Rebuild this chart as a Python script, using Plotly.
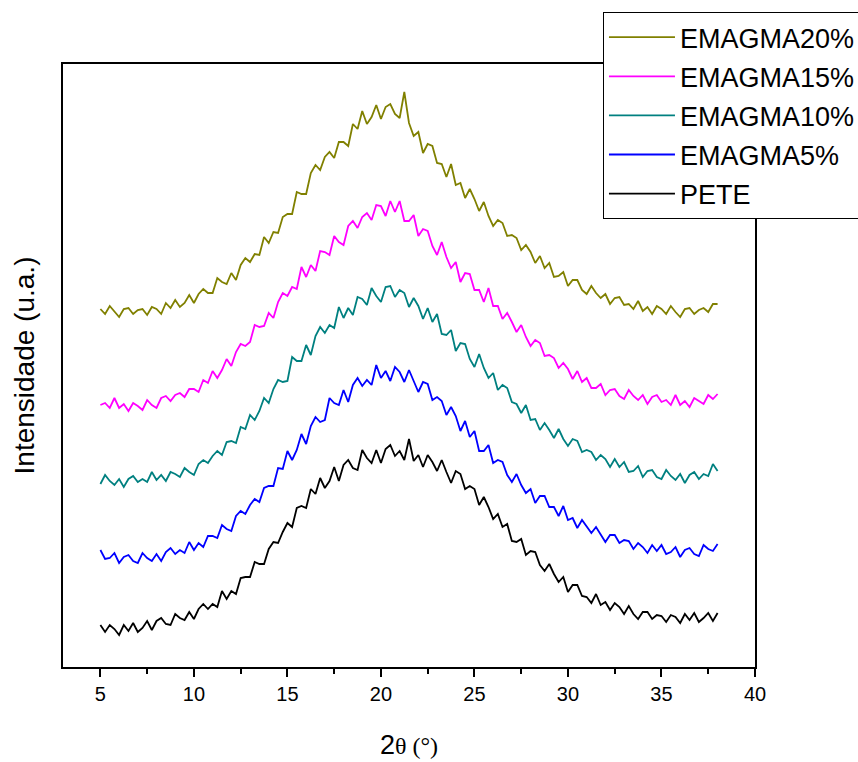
import plotly.graph_objects as go

# 2θ grid (degrees), one sample every 0.25°
two_theta = [5 + 0.25 * i for i in range(133)]

pete = [42, 35, 42, 38, 32, 42, 36, 44, 35, 39, 46, 37, 46, 49, 43, 42,
        53, 49, 47, 55, 48, 58, 63, 58, 63, 60, 76, 68, 76, 73, 89, 90,
        90, 105, 103, 103, 118, 125, 124, 135, 144, 140, 159, 161, 159, 178, 173, 189,
        179, 186, 200, 186, 202, 207, 199, 197, 217, 209, 204, 217, 204, 218, 222, 211,
        216, 207, 228, 206, 212, 200, 212, 205, 196, 207, 195, 184, 196, 193, 178, 181,
        178, 162, 170, 160, 148, 153, 140, 143, 126, 125, 128, 112, 116, 115, 102, 96,
        103, 93, 85, 90, 75, 82, 82, 71, 70, 64, 73, 62, 65, 57, 64, 60,
        53, 61, 53, 48, 55, 55, 48, 52, 51, 45, 52, 50, 44, 53, 47, 54,
        45, 49, 54, 46, 54]

emagma5 = [117, 108, 109, 114, 104, 110, 112, 106, 104, 114, 109, 106, 113, 106, 115, 119,
           113, 117, 114, 125, 117, 124, 120, 131, 131, 129, 142, 138, 136, 151, 156, 153,
           162, 168, 165, 179, 181, 181, 199, 198, 216, 207, 217, 233, 223, 241, 250, 245,
           247, 269, 264, 262, 277, 265, 282, 289, 281, 287, 282, 302, 289, 296, 286, 300,
           295, 285, 297, 285, 275, 285, 283, 267, 270, 266, 252, 260, 251, 236, 246, 230,
           236, 216, 216, 222, 204, 207, 205, 192, 185, 193, 182, 174, 178, 164, 171, 171,
           160, 160, 151, 161, 147, 149, 139, 147, 141, 134, 140, 132, 125, 132, 132, 124,
           127, 126, 118, 124, 120, 114, 122, 116, 122, 113, 115, 120, 110, 117, 119, 113,
           111, 122, 118, 116, 123]

emagma10 = [183, 192, 186, 182, 188, 180, 188, 191, 185, 188, 185, 195, 187, 192, 186, 195,
            193, 190, 199, 195, 192, 203, 207, 204, 211, 216, 212, 225, 226, 224, 240, 238,
            252, 247, 256, 269, 264, 278, 287, 285, 286, 310, 306, 306, 322, 312, 331, 340,
            334, 342, 339, 360, 349, 359, 352, 370, 368, 362, 379, 371, 365, 380, 381, 370,
            377, 374, 360, 369, 361, 348, 359, 345, 353, 333, 332, 337, 316, 324, 323, 308,
            300, 313, 299, 289, 294, 277, 282, 279, 265, 263, 254, 262, 247, 248, 237, 244,
            237, 229, 238, 228, 221, 228, 226, 215, 217, 215, 207, 212, 208, 200, 208, 200,
            205, 195, 196, 201, 190, 196, 197, 190, 188, 197, 191, 187, 193, 184, 192, 195,
            188, 193, 191, 203, 196]

emagma15 = [262, 264, 259, 269, 259, 263, 256, 264, 261, 257, 267, 262, 259, 269, 271, 266,
            272, 274, 270, 278, 278, 275, 287, 284, 296, 289, 297, 308, 301, 315, 323, 321,
            325, 342, 340, 341, 354, 349, 365, 374, 371, 380, 378, 400, 390, 402, 396, 416,
            415, 412, 431, 425, 422, 441, 446, 439, 450, 454, 447, 462, 461, 451, 466, 455,
            466, 446, 446, 452, 431, 438, 436, 421, 412, 425, 410, 399, 405, 385, 394, 393,
            377, 377, 365, 379, 361, 361, 348, 354, 345, 335, 342, 330, 321, 327, 324, 311,
            312, 309, 299, 304, 298, 288, 296, 285, 289, 279, 279, 283, 272, 277, 278, 271,
            268, 277, 271, 267, 272, 263, 270, 272, 265, 267, 262, 272, 262, 266, 260, 269,
            266, 263, 272, 268, 273]

emagma20 = [358, 353, 361, 355, 350, 358, 359, 353, 357, 358, 352, 360, 358, 353, 364, 359,
            367, 360, 364, 372, 364, 373, 378, 374, 374, 389, 385, 383, 394, 387, 402, 409,
            405, 413, 412, 430, 424, 435, 434, 450, 453, 453, 475, 473, 473, 494, 502, 497,
            510, 515, 509, 525, 525, 521, 543, 538, 556, 543, 550, 562, 548, 560, 563, 553,
            549, 575, 544, 531, 535, 514, 523, 521, 504, 503, 490, 503, 482, 484, 469, 478,
            468, 456, 465, 451, 441, 447, 444, 431, 432, 429, 417, 422, 415, 404, 411, 399,
            404, 390, 391, 395, 381, 387, 387, 377, 373, 381, 374, 369, 373, 363, 369, 370,
            362, 363, 358, 366, 356, 360, 353, 361, 358, 353, 361, 355, 350, 358, 359, 353,
            357, 359, 355, 363, 363]

series = [
    ("EMAGMA20%", emagma20, "#808000"),
    ("EMAGMA15%", emagma15, "#FF00FF"),
    ("EMAGMA10%", emagma10, "#008080"),
    ("EMAGMA5%", emagma5, "#0000FF"),
    ("PETE", pete, "#000000"),
]

fig = go.Figure()
for name, values, color in series:
    fig.add_trace(go.Scatter(
        x=two_theta, y=values, mode="lines", name=name,
        legendgroup=name,
        line=dict(color=color, width=1.8),
    ))

fig.update_layout(
    width=858, height=762,
    margin=dict(l=63, r=103, t=64, b=95, autoexpand=False),
    paper_bgcolor="white", plot_bgcolor="white",
    font=dict(family="Arial, Liberation Sans, sans-serif", color="black"),
    showlegend=True,
    legend=dict(
        x=0.7803, y=1.086, xanchor="left", yanchor="top",
        bgcolor="white", bordercolor="black", borderwidth=1,
        font=dict(size=27, color="black"),
        itemwidth=66, tracegroupgap=1, traceorder="grouped",
    ),
    xaxis=dict(
        range=[3, 40], showgrid=False, zeroline=False,
        showline=True, linecolor="black", linewidth=1.5, mirror=True,
        ticks="outside", ticklen=8, tickwidth=1.5, tickcolor="black",
        tickvals=[5, 10, 15, 20, 25, 30, 35, 40],
        tickfont=dict(size=20),
        minor=dict(ticks="outside", ticklen=5, tickwidth=1.5, tickcolor="black",
                   tickvals=[7.5, 12.5, 17.5, 22.5, 27.5, 32.5, 37.5]),
        title=dict(
            text="2<span style='font-family:Liberation Serif, Times New Roman, serif;font-size:24px'>θ (°)</span>",
            font=dict(size=27), standoff=31,
        ),
    ),
    yaxis=dict(
        range=[0, 603], showgrid=False, zeroline=False,
        showline=True, linecolor="black", linewidth=1.5, mirror=True,
        ticks="", showticklabels=False,
        title=dict(text="Intensidade (u.a.)", font=dict(size=28), standoff=18),
    ),
)

fig.write_html("out.html")
